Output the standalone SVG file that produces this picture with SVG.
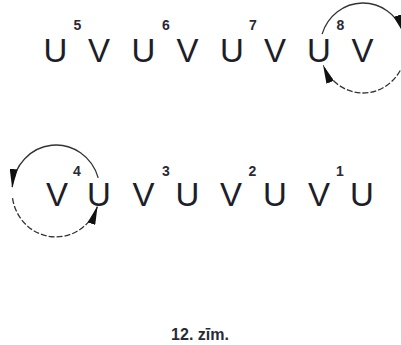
<svg xmlns="http://www.w3.org/2000/svg" width="401" height="345" viewBox="0 0 401 345">
<style>
.l{font-family:"Liberation Sans",Arial,sans-serif;font-size:33px;fill:#1e1e2a;text-anchor:middle}
.d{font-family:"Liberation Sans",Arial,sans-serif;font-size:14px;font-weight:bold;fill:#2a2a36;text-anchor:middle}
.cap{font-family:"Liberation Sans",Arial,sans-serif;font-size:16px;font-weight:bold;fill:#2a2a36;text-anchor:middle}
.arc{fill:none;stroke:#333;stroke-width:1.3}
.dash{stroke-dasharray:6 2}
</style>
<defs>
<marker id="ah" markerUnits="userSpaceOnUse" markerWidth="19" markerHeight="8" viewBox="0 0 19 8" refX="18" refY="4" orient="auto">
<path d="M0,0 L19,4 L0,8 z" fill="#111"/>
</marker>
</defs>
<g id="row1">
<g id="n5"><text class="l" x="55.5" y="61.5">U</text><text class="d" x="77.5" y="30">5</text><text class="l" x="99" y="61.5">V</text></g>
<g id="n6"><text class="l" x="143.5" y="61.5">U</text><text class="d" x="166" y="30">6</text><text class="l" x="187.5" y="61.5">V</text></g>
<g id="n7"><text class="l" x="232" y="61.5">U</text><text class="d" x="253" y="30">7</text><text class="l" x="275" y="61.5">V</text></g>
<g id="n8"><text class="l" x="319" y="61.5">U</text><text class="d" x="340.5" y="30">8</text><text class="l" x="362.5" y="61.5">V</text></g>
</g>
<g id="row2">
<g id="n4"><text class="l" x="57" y="206">V</text><text class="d" x="77" y="175.5">4</text><text class="l" x="99" y="206">U</text></g>
<g id="n3"><text class="l" x="143.5" y="206">V</text><text class="d" x="166" y="175.5">3</text><text class="l" x="187.5" y="206">U</text></g>
<g id="n2"><text class="l" x="231" y="206">V</text><text class="d" x="252.5" y="175.5">2</text><text class="l" x="275" y="206">U</text></g>
<g id="n1"><text class="l" x="319" y="206">V</text><text class="d" x="340" y="175.5">1</text><text class="l" x="362" y="206">U</text></g>
</g>
<g id="connectors">
<path class="arc" d="M322.1,34.1 A43,45 0 0 1 403.4,32.6" marker-end="url(#ah)"/>
<path class="arc dash" d="M400.2,70.5 A43,45 0 0 1 323.4,65.6" marker-end="url(#ah)"/>
<path class="arc" d="M98.2,177.9 A44,46 0 0 0 12.2,187" marker-end="url(#ah)"/>
<path class="arc dash" d="M12.5,198.2 A44,46 0 0 0 97.3,206.7" marker-end="url(#ah)"/>
</g>
<g id="caption"><text class="cap" x="200" y="340">12. zīm.</text></g>
</svg>
